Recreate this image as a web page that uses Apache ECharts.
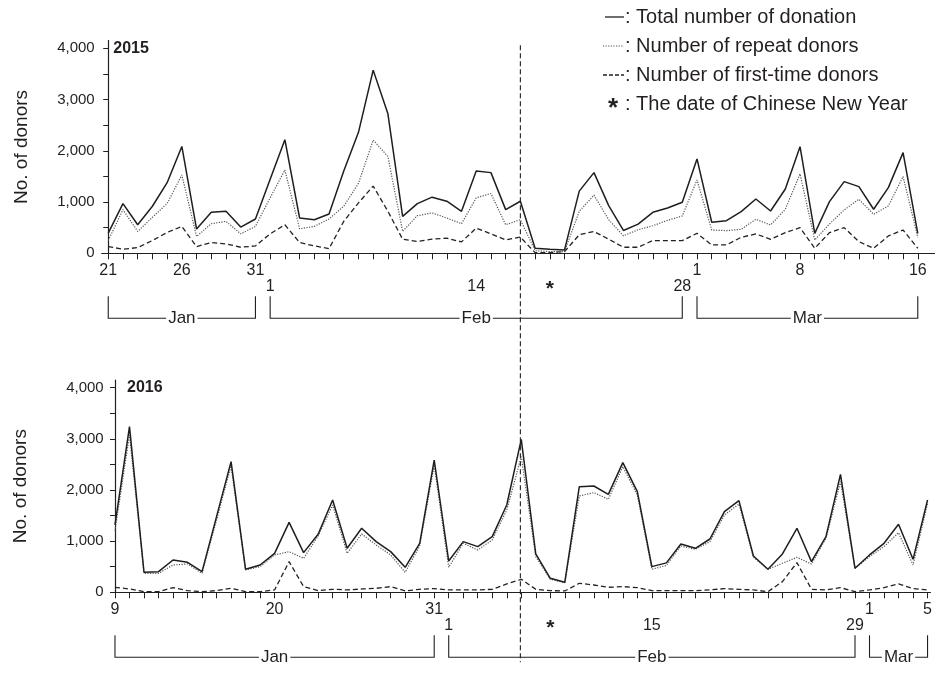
<!DOCTYPE html>
<html><head><meta charset="utf-8">
<script src="https://cdn.jsdelivr.net/npm/echarts@6/dist/echarts.min.js"></script>
<style>html,body{margin:0;padding:0;background:#fff}#c{width:935px;height:674px}</style>
</head><body><div id="c"></div>
<script>
// ---------- DATA ----------
// 2015 panel: 56 daily points (Jan 21 ... Mar 16 as drawn in the figure)
const total2015 = [393, 970, 557, 918, 1377, 2085, 472, 800, 820, 511, 669, 1443, 2216, 689, 656, 767, 1607, 2360, 3574, 2721, 721, 970, 1095, 1016, 820, 1607, 1574, 852, 1016, 98, 79, 66, 1213, 1574, 931, 446, 570, 800, 885, 995, 1841, 605, 637, 813, 1060, 826, 1255, 2081, 390, 1008, 1398, 1301, 859, 1281, 1964, 390];
const repeat2015 = [249, 852, 426, 702, 970, 1528, 328, 577, 623, 380, 525, 1082, 1626, 479, 525, 669, 918, 1364, 2210, 1889, 426, 734, 787, 689, 577, 1082, 1167, 557, 656, 52, 33, 33, 820, 1134, 656, 341, 459, 538, 643, 728, 1431, 455, 442, 468, 663, 553, 859, 1548, 260, 572, 846, 1054, 761, 924, 1496, 312];
const first2015 = [131, 79, 111, 249, 407, 525, 131, 210, 184, 118, 144, 380, 557, 210, 144, 92, 623, 984, 1311, 820, 275, 230, 275, 295, 223, 492, 380, 262, 315, 13, 13, 33, 361, 426, 275, 118, 118, 249, 247, 247, 390, 163, 163, 312, 377, 273, 403, 501, 98, 403, 501, 228, 98, 338, 455, 98];
// 2016 panel: 57 daily points (Jan 9 ... Mar 5)
const total2016 = [1316, 3238, 391, 404, 632, 586, 404, 1479, 2554, 450, 534, 762, 1368, 775, 1134, 1805, 860, 1251, 990, 795, 489, 958, 2586, 612, 990, 893, 1088, 1707, 2990, 749, 274, 195, 2065, 2078, 1915, 2534, 1967, 502, 575, 945, 860, 1042, 1577, 1792, 710, 450, 749, 1251, 599, 1088, 2306, 469, 730, 958, 1329, 645, 1805];
const repeat2016 = [1205, 3075, 371, 371, 534, 554, 371, 1414, 2469, 436, 502, 730, 795, 664, 1101, 1707, 762, 1140, 925, 730, 391, 906, 2489, 489, 958, 827, 1023, 1609, 2651, 697, 254, 189, 1883, 1948, 1818, 2456, 1902, 450, 525, 906, 840, 990, 1511, 1726, 684, 450, 567, 684, 554, 1055, 2163, 469, 697, 893, 1166, 534, 1739];
const first2016 = [98, 65, 13, 13, 91, 33, 13, 33, 78, 13, 13, 46, 599, 111, 33, 59, 46, 65, 78, 111, 26, 59, 72, 46, 46, 46, 59, 163, 254, 59, 33, 26, 176, 143, 98, 111, 91, 33, 33, 33, 33, 46, 72, 59, 46, 13, 208, 580, 59, 46, 91, 13, 46, 91, 163, 72, 46];

// tick labels (day index -> label)
const topRow1Idx = [0, 5, 10, 40, 47, 55];
const topRow1Txt = ['21', '26', '31', '1', '8', '16'];
const topRow2Idx = [11, 25, 30, 39];
const topRow2Txt = ['1', '14', '*', '28'];
const botRow1Idx = [0, 11, 22, 52, 56];
const botRow1Txt = ['9', '20', '31', '1', '5'];
const botRow2Idx = [23, 30, 37, 51];
const botRow2Txt = ['1', '*', '15', '29'];
// month brackets [label, firstIdx, lastIdx]
const topMonths = [['Jan', 0, 10], ['Feb', 11, 39], ['Mar', 40, 55]];
const botMonths = [['Jan', 0, 22], ['Feb', 23, 51], ['Mar', 52, 56]];
const cnyLineIdx = 28;
const yTicks = [0, 500, 1000, 1500, 2000, 2500, 3000, 3500, 4000];
const yLabels = [0, 1000, 2000, 3000, 4000];
const panelTitles = ['2015', '2016'];
const legendTexts = ['Total number of donation', 'Number of repeat donors', 'Number of first-time donors', 'The date of Chinese New Year'];
const yName = 'No. of donors';

// ---------- CHART ----------
const FONT = '"Liberation Sans", Arial, Helvetica, sans-serif';
const INK = '#231f20';
const chart = echarts.init(document.getElementById('c'), null, {renderer: 'canvas'});

function range(n) { const a = []; for (let i = 0; i < n; i++) a.push(i); return a; }
function pairs(arr) { return arr.map((v, i) => [i, v]); }
function lookup(idx, txt) { const m = {}; idx.forEach((k, i) => m[k] = txt[i]); return m; }

function xAxes(gridIndex, min, max, n, r1i, r1t, r2i, r2t) {
  const m1 = lookup(r1i, r1t), m2 = lookup(r2i, r2t);
  return [
    {
      type: 'value', gridIndex, min, max, position: 'bottom', offset: 0,
      axisLine: {show: true, onZero: false, lineStyle: {color: INK, width: 1.2}},
      axisTick: {show: true, customValues: range(n), length: 6, lineStyle: {color: INK, width: 1}},
      axisLabel: {show: true, customValues: r1i, margin: 9, formatter: v => m1[v] || '',
        color: INK, fontFamily: FONT, fontSize: 16},
      splitLine: {show: false}
    },
    {
      type: 'value', gridIndex, min, max, position: 'bottom', offset: 0,
      axisLine: {show: false, onZero: false}, axisTick: {show: false},
      axisLabel: {show: true, customValues: r2i, margin: 25,
        formatter: v => m2[v] === '*' ? '{s|*}' : (m2[v] || ''),
        color: INK, fontFamily: FONT, fontSize: 16,
        rich: {s: {fontSize: 21, fontWeight: 'bold', fontFamily: FONT, color: INK}}},
      splitLine: {show: false}
    }
  ];
}

function yAxis(gridIndex, gap) {
  return {
    type: 'value', gridIndex, min: 0, max: 4150,
    name: yName, nameLocation: 'middle', nameRotate: 90, nameGap: gap,
    nameTextStyle: {color: INK, fontFamily: FONT, fontSize: 19},
    axisLine: {show: true, lineStyle: {color: INK, width: 1.2}},
    axisTick: {show: true, customValues: yTicks, length: 5, lineStyle: {color: INK}},
    axisLabel: {show: true, customValues: yLabels, margin: 7, color: INK, fontFamily: FONT, fontSize: 15,
      formatter: v => v.toLocaleString('en-US')},
    splitLine: {show: false}
  };
}

function lineSeries(data, xi, yi, kind) {
  const styles = {
    total: {color: '#1e1e1e', width: 1.5, type: 'solid', z: 4},
    repeat: {color: '#555', width: 1.2, type: [1.2, 1.4], z: 3},
    first: {color: '#222', width: 1.3, type: [5, 3], z: 2}
  };
  const s = styles[kind];
  return {
    type: 'line', xAxisIndex: xi, yAxisIndex: yi, data: pairs(data),
    showSymbol: false, symbol: 'none', silent: true, animation: false, z: s.z,
    lineStyle: {color: s.color, width: s.width, type: s.type}
  };
}

chart.setOption({
  backgroundColor: '#fff',
  animation: false,
  grid: [
    {left: 101.7, right: 0, top: 40.6, height: 212.7},
    {left: 110.7, right: 0, top: 380.0, height: 212.3}
  ],
  xAxis: [
    ...xAxes(0, -0.445, 56.17, total2015.length, topRow1Idx, topRow1Txt, topRow2Idx, topRow2Txt),
    ...xAxes(1, -0.295, 56.2, total2016.length, botRow1Idx, botRow1Txt, botRow2Idx, botRow2Txt)
  ],
  yAxis: [yAxis(0, 70), yAxis(1, 80)],
  series: [
    lineSeries(first2015, 0, 0, 'first'),
    lineSeries(repeat2015, 0, 0, 'repeat'),
    lineSeries(total2015, 0, 0, 'total'),
    lineSeries(first2016, 2, 1, 'first'),
    lineSeries(repeat2016, 2, 1, 'repeat'),
    lineSeries(total2016, 2, 1, 'total')
  ]
});

// ---------- ANNOTATIONS (computed from axes) ----------
const g = [];
function px(axisIndex, idx) { return chart.convertToPixel({xAxisIndex: axisIndex}, idx); }
function py(axisIndex, v) { return chart.convertToPixel({yAxisIndex: axisIndex}, v); }

function brackets(months, xi, yi) {
  const base = py(yi, 0);
  const yTop = base + 43, yBot = base + 65;
  months.forEach(([name, a, b]) => {
    const x0 = px(xi, a), x1 = px(xi, b);
    g.push({type: 'polyline', silent: true, shape: {points: [[x0, yTop], [x0, yBot], [x1, yBot], [x1, yTop]]},
      style: {stroke: INK, lineWidth: 1.1, fill: null}});
    g.push({type: 'text', silent: true, x: (x0 + x1) / 2, y: yBot, z: 10,
      style: {text: name, fontFamily: FONT, fontSize: 17, fill: INK, align: 'center', verticalAlign: 'middle',
        backgroundColor: '#fff', padding: [0, 2]}});
  });
}
brackets(topMonths, 0, 0);
brackets(botMonths, 2, 1);

// panel year labels
g.push({type: 'text', silent: true, x: px(0, 0) + 5, y: py(0, 4000),
  style: {text: panelTitles[0], fontFamily: FONT, fontSize: 16, fontWeight: 'bold', fill: INK, verticalAlign: 'middle'}});
g.push({type: 'text', silent: true, x: px(2, 0) + 12, y: py(1, 4000),
  style: {text: panelTitles[1], fontFamily: FONT, fontSize: 16, fontWeight: 'bold', fill: INK, verticalAlign: 'middle'}});

// Chinese New Year reference line across both panels
const cx = px(0, cnyLineIdx);
g.push({type: 'line', silent: true, z: 20, shape: {x1: cx, y1: py(0, 4000) - 3, x2: cx, y2: py(1, 0) + 70},
  style: {stroke: INK, lineWidth: 1.1, lineDash: [5, 3]}});

// legend
const lgX = 603, lgRows = [17, 46, 75, 104];
const lgDash = [null, [1.2, 1.4], [4, 2]];
for (let i = 0; i < 3; i++) {
  g.push({type: 'line', silent: true, shape: {x1: lgX + (i === 0 ? 2 : 0), y1: lgRows[i], x2: lgX + 21, y2: lgRows[i]},
    style: {stroke: i === 1 ? '#555' : INK, lineWidth: i === 1 ? 1.2 : 1.3, lineDash: lgDash[i] || null}});
}
g.push({type: 'text', silent: true, x: lgX + 10, y: lgRows[3] + 5,
  style: {text: '*', fontFamily: FONT, fontSize: 26, fontWeight: 'bold', fill: INK, align: 'center', verticalAlign: 'middle'}});
legendTexts.forEach((t, i) => {
  g.push({type: 'text', silent: true, x: lgX + 22, y: lgRows[i],
    style: {text: ': ' + t, fontFamily: FONT, fontSize: 20, fill: INK, verticalAlign: 'middle'}});
});

chart.setOption({graphic: g});
</script>
</body></html>
